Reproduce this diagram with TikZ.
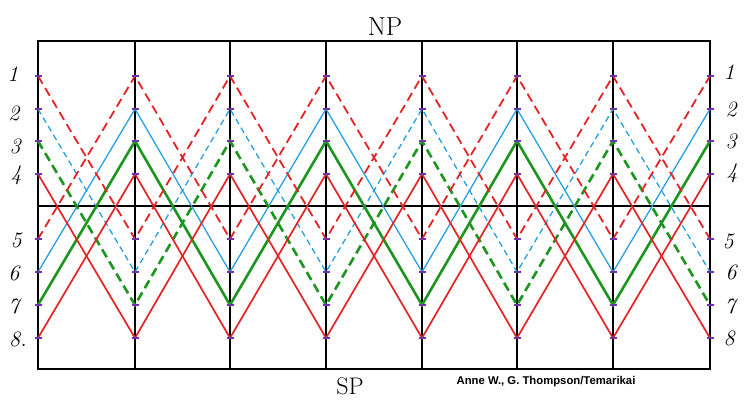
\documentclass[tikz,border=0pt]{standalone}
\usepackage{fontspec}
\newfontfamily\credfont{Liberation Sans}
\definecolor{myred}{RGB}{228,36,36}
\definecolor{myblue}{RGB}{38,160,225}
\definecolor{mygreen}{RGB}{28,150,30}
\definecolor{mypurple}{RGB}{110,50,170}
\begin{document}
\begin{tikzpicture}[x=1pt,y=-1pt,
  frame/.style={line width=2.2pt,black},
  gridline/.style={line width=1.6pt,black},
  rdash/.style={line width=1.8pt,color=myred,dash pattern=on 9pt off 5pt},
  rsolid/.style={line width=1.7pt,color=myred},
  bdash/.style={line width=1.3pt,color=myblue,dash pattern=on 6pt off 4pt},
  bsolid/.style={line width=1.3pt,color=myblue},
  gdash/.style={line width=2.6pt,color=mygreen,dash pattern=on 9pt off 5pt},
  gsolid/.style={line width=2.6pt,color=mygreen},
  tickmark/.style={line width=1.3pt,color=mypurple},
  lab/.style={font=\itshape\fontsize{22}{22}\selectfont,inner sep=0pt},
  pole/.style={font=\fontsize{26}{26}\selectfont,inner sep=0pt},
  spole/.style={font=\fontsize{24}{24}\selectfont,inner sep=0pt},
  cred/.style={font=\credfont\bfseries\fontsize{11.3}{12}\selectfont,inner sep=0pt}
]
\useasboundingbox (0,0) rectangle (745,400);
\fill[white] (0,0) rectangle (745,400);
\foreach \x [count=\i from 0] in {38,135,230,326,422,517,613,710} {
  \foreach \y [count=\k] in {76,109,141,174,239,272,305,338} {
    \coordinate (v\i-\k) at (\x,\y);
  }
  \coordinate (t\i) at (\x,41);
  \coordinate (b\i) at (\x,369);
}
\coordinate (cl) at (38,206);
\coordinate (cr) at (710,206);
% grid
\foreach \i in {1,...,6} { \draw[gridline] (t\i) -- (b\i); }
\draw[gridline] (cl) -- (cr);
\draw[frame] (t0) rectangle (b7);
% zigzags
\draw[bdash] (v0-2) -- (v1-6) -- (v2-2) -- (v3-6) -- (v4-2) -- (v5-6) -- (v6-2) -- (v7-6);
\draw[bsolid] (v0-6) -- (v1-2) -- (v2-6) -- (v3-2) -- (v4-6) -- (v5-2) -- (v6-6) -- (v7-2);
\draw[gdash] (v0-3) -- (v1-7) -- (v2-3) -- (v3-7) -- (v4-3) -- (v5-7) -- (v6-3) -- (v7-7);
\draw[gsolid] (v0-7) -- (v1-3) -- (v2-7) -- (v3-3) -- (v4-7) -- (v5-3) -- (v6-7) -- (v7-3);
\draw[rdash] (v0-1) -- (v1-5) -- (v2-1) -- (v3-5) -- (v4-1) -- (v5-5) -- (v6-1) -- (v7-5);
\draw[rdash] (v0-5) -- (v1-1) -- (v2-5) -- (v3-1) -- (v4-5) -- (v5-1) -- (v6-5) -- (v7-1);
\draw[rsolid] (v0-4) -- (v1-8) -- (v2-4) -- (v3-8) -- (v4-4) -- (v5-8) -- (v6-4) -- (v7-8);
\draw[rsolid] (v0-8) -- (v1-4) -- (v2-8) -- (v3-4) -- (v4-8) -- (v5-4) -- (v6-8) -- (v7-4);
% tick marks
\foreach \i in {0,...,7} {
  \foreach \k in {1,...,8} {
    \draw[tickmark] ([xshift=-3.5pt]v\i-\k) -- ([xshift=3.5pt]v\i-\k);
  }
}
% left labels
\node[lab] (l1) at (13,74) {1};
\node[lab] (l2) at (14,113) {2};
\node[lab] (l3) at (15,146) {3};
\node[lab] (l4) at (16,175) {4};
\node[lab] (l5) at (16,240) {5};
\node[lab] (l6) at (14,273) {6};
\node[lab] (l7) at (14,306) {7};
\node[lab] (l8) at (18,339) {8.};
% right labels
\node[lab] (r1) at (729,72) {1};
\node[lab] (r2) at (731,109) {2};
\node[lab] (r3) at (731,141) {3};
\node[lab] (r4) at (732,173) {4};
\node[lab] (r5) at (728,241) {5};
\node[lab] (r6) at (731,272) {6};
\node[lab] (r7) at (730,306) {7};
\node[lab] (r8) at (729,338) {8};
% poles and credit
\node[pole] (np) at (385,27) {NP};
\node[spole] (sp) at (350,386) {SP};
\node[cred] (credit) at (546,382) {Anne W., G. Thompson/Temarikai};
\end{tikzpicture}
\end{document}
